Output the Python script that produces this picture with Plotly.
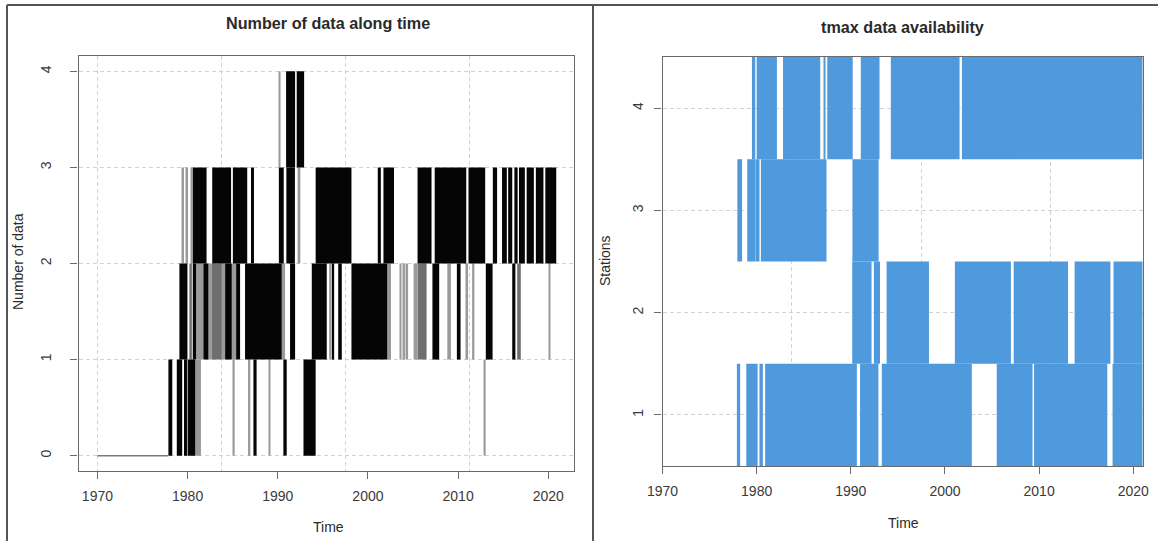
import plotly.graph_objects as go

# ---------------- Left panel: number of data along time ----------------
# blocks where the count flickers densely between level and level+1
dense_start = [1977.87, 1978.8, 1979.6, 1980.0, 1987.3, 1990.62, 1992.85,
               1979.09, 1980.57, 1981.75, 1984.16, 1985.38, 1986.37, 1991.36, 1993.77,
               1996.0, 1996.7, 1998.17, 2007.15, 2009.86, 2013.07, 2016.0,
               1980.6, 1982.73, 1985.02, 1987.03, 1990.12, 1990.95, 1994.2, 2001.09,
               2001.72, 2005.5, 2007.4, 2011.15, 2013.85, 2014.87, 2015.55, 2016.24,
               2016.75, 2017.6, 2018.62, 2019.67,
               1990.92, 1992.1]
dense_end = [1978.3, 1979.4, 1979.93, 1980.85, 1987.65, 1990.99, 1994.2,
             1979.98, 1980.94, 1982.31, 1984.9, 1985.82, 1990.44, 1991.92, 1995.43,
             1996.25, 1997.1, 2002.14, 2007.9, 2010.27, 2013.82, 2016.35,
             1982.1, 1984.82, 1986.61, 1987.36, 1990.66, 1991.9, 1998.17, 2001.43,
             2002.89, 2007.05, 2010.9, 2013.0, 2014.32, 2015.4, 2016.0, 2016.6,
             2017.4, 2018.4, 2019.46, 2020.88,
             1991.92, 1992.92]
dense_level = [0, 0, 0, 0, 0, 0, 0,
               1, 1, 1, 1, 1, 1, 1, 1,
               1, 1, 1, 1, 1, 1, 1,
               2, 2, 2, 2, 2, 2, 2, 2,
               2, 2, 2, 2, 2, 2, 2, 2,
               2, 2, 2, 2,
               3, 3]

# blocks with a medium density of changes
mixed_start = [1982.68, 2005.5, 2016.55, 1980.2]
mixed_end = [1983.79, 2006.5, 2016.95, 1980.47]
mixed_level = [1, 1, 1, 1]

# isolated changes (thin grey strokes)
sparse_start = [1980.85, 1985.0, 1986.7, 1989.03, 2012.9,
                1980.94, 1982.31, 1983.79, 1984.9, 1990.44, 1995.7, 2002.14, 2003.5,
                2003.9, 2004.25, 2005.06, 2008.8, 2010.9, 2011.55, 2020.05,
                1979.4, 1979.85, 1980.4, 1992.2,
                1990.1]
sparse_end = [1981.48, 1985.22, 1986.95, 1989.18, 2013.05,
              1981.75, 1982.68, 1984.16, 1985.38, 1990.81, 1995.95, 2002.55, 2003.7,
              2004.1, 2004.45, 2005.48, 2009.2, 2011.1, 2011.8, 2020.17,
              1979.6, 1980.05, 1980.6, 1992.5,
              1990.22]
sparse_level = [0, 0, 0, 0, 0,
                1, 1, 1, 1, 1, 1, 1, 1,
                1, 1, 1, 1, 1, 1, 1,
                2, 2, 2, 2,
                3]

# flat period with no data
empty_x = [1970, 1977.87]
empty_y = [0, 0]

left_xticks = [1970, 1980, 1990, 2000, 2010, 2020]
left_yticks = [0, 1, 2, 3, 4]
vgrid = [1970, 1983.75, 1997.5, 2011.25]

# ---------------- Right panel: tmax data availability ----------------
avail_station = [1, 1, 1, 1, 1, 1, 1, 1, 1,
                 2, 2, 2, 2, 2, 2, 2,
                 3, 3, 3, 3, 3,
                 4, 4, 4, 4, 4, 4, 4, 4]
avail_start = [1977.9, 1978.9, 1980.3, 1980.9, 1990.98, 1993.29, 2005.5, 2009.46, 2017.8,
               1990.15, 1992.45, 1993.8, 2001.05, 2007.3, 2013.77, 2017.9,
               1977.95, 1979.0, 1979.87, 1980.45, 1990.17,
               1979.5, 1980.0, 1982.8, 1987.1, 1987.5, 1991.06, 1994.25, 2001.8]
avail_end = [1978.25, 1980.1, 1980.66, 1990.64, 1992.93, 2002.85, 2009.3, 2017.24, 2021.0,
             1992.2, 1993.1, 1998.3, 2007.0, 2013.07, 2017.57, 2021.0,
             1978.45, 1979.85, 1980.3, 1987.42, 1992.95,
             1979.85, 1982.15, 1986.75, 1987.25, 1990.2, 1993.05, 2001.55, 2021.0]

right_xticks = [1970, 1980, 1990, 2000, 2010, 2020]
right_yticks = [1, 2, 3, 4]

W, H = 1158, 541
FONT = "Liberation Sans, Arial, sans-serif"
TXT = "#3a3a3a"
LINE = "#6a6a6a"
GRID = "#d3d3d3"
BLUE = "#4a96dc"


def px(x):
    return x / W


def py(y):
    return 1 - y / H


def blocks(start, end, level):
    xs = [(s + e) / 2 for s, e in zip(start, end)]
    ws = [max(e - s, 0.14) for s, e in zip(start, end)]
    return xs, ws, list(level), [1] * len(level)


fig = go.Figure()

fig.add_trace(go.Scatter(x=empty_x, y=empty_y, mode="lines",
                         line=dict(color="#7a7a7a", width=1.5),
                         xaxis="x", yaxis="y", showlegend=False, hoverinfo="skip"))

for (s, e, l), col in [((sparse_start, sparse_end, sparse_level), "#9a9a9a"),
                       ((mixed_start, mixed_end, mixed_level), "#6e6e6e"),
                       ((dense_start, dense_end, dense_level), "#050505")]:
    xs, ws, base, hs = blocks(s, e, l)
    fig.add_trace(go.Bar(x=xs, y=hs, base=base, width=ws,
                         marker=dict(color=col, line=dict(width=0)),
                         xaxis="x", yaxis="y", showlegend=False, hoverinfo="skip"))

fig.add_trace(go.Bar(y=avail_station,
                     x=[e - s for s, e in zip(avail_start, avail_end)],
                     base=avail_start, width=1.0, orientation="h",
                     marker=dict(color=BLUE, line=dict(width=0)), opacity=0.97,
                     xaxis="x2", yaxis="y2", showlegend=False, hoverinfo="skip"))

common_axis = dict(showline=True, mirror=True, linecolor=LINE, linewidth=1.2,
                   ticks="outside", ticklen=7, tickwidth=1, tickcolor=LINE,
                   tickfont=dict(size=14, color=TXT, family=FONT),
                   zeroline=False, fixedrange=True, automargin=False)

minor_grid = dict(tickvals=vgrid, showgrid=True, gridcolor=GRID, gridwidth=1,
                  griddash="4px,3px", ticks="")

fig.update_layout(
    width=W, height=H,
    margin=dict(l=0, r=0, t=0, b=0, autoexpand=False),
    paper_bgcolor="white", plot_bgcolor="white",
    barmode="overlay",
    font=dict(family=FONT, color=TXT),
    xaxis=dict(domain=[px(78.5), px(574)], range=[1967.9, 2022.85],
               tickvals=left_xticks, ticktext=[str(v) for v in left_xticks],
               showgrid=False, minor=minor_grid, anchor="y",
               ticklabelstandoff=5, **common_axis),
    yaxis=dict(domain=[py(471), py(56)], range=[-0.16, 4.16],
               tickvals=left_yticks, ticktext=[str(v) for v in left_yticks],
               tickangle=-90, showgrid=True, gridcolor=GRID, griddash="4px,3px",
               anchor="x", ticklabelstandoff=14, **common_axis),
    xaxis2=dict(domain=[px(662.5), px(1142.7)], range=[1970, 2021],
                tickvals=right_xticks, ticktext=[str(v) for v in right_xticks],
                showgrid=False, minor=minor_grid, anchor="y2", layer="below traces",
                ticklabelstandoff=5, **common_axis),
    yaxis2=dict(domain=[py(466), py(57)], range=[0.5, 4.5],
                tickvals=right_yticks, ticktext=[str(v) for v in right_yticks],
                tickangle=-90, showgrid=True, gridcolor=GRID, griddash="4px,3px",
                anchor="x2", layer="below traces", ticklabelstandoff=6, **common_axis),
)

ann = [
    dict(text="<b>Number of data along time</b>", x=px(327.5), y=py(23), size=16.2),
    dict(text="<b>tmax data availability</b>", x=px(902.5), y=py(27), size=16.2),
    dict(text="Time", x=px(328), y=py(527), size=14),
    dict(text="Time", x=px(903), y=py(523), size=14),
    dict(text="Number of data", x=px(18), y=py(262), size=14, angle=-90),
    dict(text="Stations", x=px(605), y=py(261), size=14, angle=-90),
]
for a in ann:
    fig.add_annotation(text=a["text"], x=a["x"], y=a["y"], xref="paper", yref="paper",
                       xanchor="center", yanchor="middle", showarrow=False,
                       textangle=a.get("angle", 0),
                       font=dict(size=a["size"], color="#2a2a2a", family=FONT))

# outer frame of the screenshot (top edge, left edge, divider)
frame = [(px(7), py(5), px(1158), py(5)),
         (px(7), py(5), px(7), 0),
         (px(593), py(5), px(593), 0)]
for x0, y0, x1, y1 in frame:
    fig.add_shape(type="line", x0=x0, y0=y0, x1=x1, y1=y1, xref="paper", yref="paper",
                  line=dict(color="#555555", width=2))

fig.write_html("out.html", config={"displayModeBar": False},
               post_script="document.body.style.margin='0';document.body.style.overflow='hidden';")
